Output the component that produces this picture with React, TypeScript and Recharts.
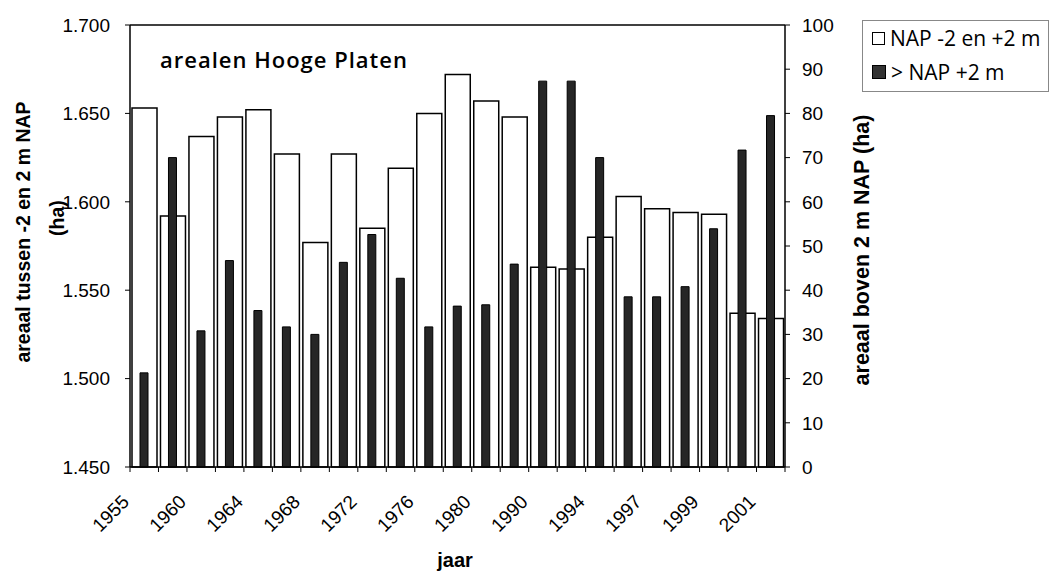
import React from "react";
import { BarChart, Bar, XAxis, YAxis, ReferenceLine, Legend } from "recharts";

const years = ["1955","1958","1960","1962","1964","1966","1968","1970","1972","1974","1976","1978","1980","1985","1990","1992","1994","1996","1997","1998","1999","2000","2001"];
const areaMid = [1653,1592,1637,1648,1652,1627,1577,1627,1585,1619,1650,1672,1657,1648,1563,1562,1580,1603,1596,1594,1593,1537,1534];
const areaHigh = [21.3,70,30.8,46.7,35.4,31.7,30,46.3,52.6,42.7,31.7,36.4,36.7,45.9,87.3,87.3,70,38.5,38.5,40.8,53.9,71.7,79.5];
const leftTicks = [1450,1500,1550,1600,1650,1700];
const rightTicks = [0,10,20,30,40,50,60,70,80,90,100];

const data = years.map((y, i) => ({ year: y, mid: areaMid[i], high: areaHigh[i] }));

const W = 1051, H = 579;
const PLOT_L = 130, PLOT_R = 785, PLOT_T = 25, PLOT_B = 467;
const BAND = (PLOT_R - PLOT_L) / years.length;
const AX = "Liberation Sans, Arial, sans-serif";
const HUM = "'Open Sans', sans-serif";

const XTick = (props: any) => {
  const { x, y, payload, index } = props;
  const half = BAND / 2;
  return (
    <g>
      <line x1={x - half} y1={y} x2={x - half} y2={y + 5} stroke="#000" strokeWidth={1} />
      {index === years.length - 1 && (
        <line x1={x + half} y1={y} x2={x + half} y2={y + 5} stroke="#000" strokeWidth={1} />
      )}
      {index % 2 === 0 && (
        <text
          transform={`translate(${x - 14},${y + 36}) rotate(-45)`}
          textAnchor="end"
          fontFamily={AX}
          fontSize={19}
          fill="#000"
        >
          {payload.value}
        </text>
      )}
    </g>
  );
};

const LegendContent = () => (
  <div
    style={{
      width: 187,
      height: 72,
      border: "1px solid #888",
      background: "#fff",
      fontFamily: HUM,
      fontSize: 21,
      color: "#000",
      boxSizing: "border-box",
      position: "relative",
    }}
  >
    <div style={{ position: "absolute", left: 9, top: 3, display: "flex", alignItems: "center", whiteSpace: "nowrap" }}>
      <span style={{ display: "inline-block", width: 11, height: 11, border: "1.5px solid #000", background: "#fff", marginRight: 5 }} />
      <span>NAP -2 en +2 m</span>
    </div>
    <div style={{ position: "absolute", left: 9, top: 37, display: "flex", alignItems: "center", whiteSpace: "nowrap" }}>
      <span style={{ display: "inline-block", width: 12, height: 12, border: "1px solid #000", background: "#333", marginRight: 5 }} />
      <span>&gt; NAP +2 m</span>
    </div>
  </div>
);

export default function App() {
  return (
    <div style={{ position: "absolute", left: 0, top: 0, width: W, height: H, background: "#fff" }}>
      <BarChart
        width={W}
        height={H}
        data={data}
        margin={{ top: PLOT_T, right: 0, bottom: 0, left: 0 }}
        barCategoryGap={0}
      >
        <XAxis
          xAxisId="a"
          dataKey="year"
          interval={0}
          tickSize={0}
          tickMargin={0}
          tickLine={false}
          height={H - PLOT_B}
          axisLine={{ stroke: "#000", strokeWidth: 1.5 }}
          tick={<XTick />}
          label={{
            content: () => (
              <text x={455} y={567} textAnchor="middle" fontFamily={AX} fontWeight="bold" fontSize={20} fill="#000">
                jaar
              </text>
            ),
          }}
        />
        <XAxis xAxisId="b" dataKey="year" hide />
        <YAxis
          yAxisId="left"
          orientation="left"
          width={PLOT_L}
          domain={[1450, 1700]}
          ticks={leftTicks}
          interval={0}
          tickFormatter={(v: number) => (v / 1000).toFixed(3)}
          tick={{ fontFamily: AX, fontSize: 19, fill: "#000" }}
          tickSize={5}
          tickMargin={15}
          tickLine={{ stroke: "#000" }}
          axisLine={{ stroke: "#000", strokeWidth: 1.5 }}
          label={{
            content: () => (
              <g fontFamily={AX} fontWeight="bold" fontSize={19.5} fill="#000">
                <text x={23} y={232} transform="rotate(-90 23 232)" textAnchor="middle" dominantBaseline="central">
                  areaal tussen -2 en 2 m NAP
                </text>
                <text x={57} y={218} transform="rotate(-90 57 218)" textAnchor="middle" dominantBaseline="central">
                  (ha)
                </text>
              </g>
            ),
          }}
        />
        <YAxis
          yAxisId="right"
          orientation="right"
          width={W - PLOT_R}
          domain={[0, 100]}
          ticks={rightTicks}
          interval={0}
          tick={{ fontFamily: AX, fontSize: 19, fill: "#000" }}
          tickSize={5}
          tickMargin={12}
          tickLine={{ stroke: "#000" }}
          axisLine={{ stroke: "#000", strokeWidth: 1.5 }}
          label={{
            content: () => (
              <text
                x={862}
                y={250}
                transform="rotate(-90 862 250)"
                textAnchor="middle"
                dominantBaseline="central"
                fontFamily={AX}
                fontWeight="bold"
                fontSize={21.5}
                fill="#000"
              >
                areaal boven 2 m NAP (ha)
              </text>
            ),
          }}
        />
        <ReferenceLine
          yAxisId="left"
          xAxisId="a"
          y={1700}
          stroke="#000"
          strokeWidth={1.5}
          label={{
            content: () => (
              <text x={160} y={68} fontFamily={HUM} fontWeight={600} fontSize={22} letterSpacing={1} fill="#000">
                arealen Hooge Platen
              </text>
            ),
          }}
        />
        <Bar
          xAxisId="a"
          yAxisId="left"
          dataKey="mid"
          name="NAP -2 en +2 m"
          fill="#fff"
          stroke="#000"
          strokeWidth={1.5}
          barSize={25}
          isAnimationActive={false}
        />
        <Bar
          xAxisId="b"
          yAxisId="right"
          dataKey="high"
          name="> NAP +2 m"
          fill="#262626"
          stroke="#000"
          strokeWidth={1}
          barSize={8}
          isAnimationActive={false}
        />
        <Legend
          layout="horizontal"
          verticalAlign="middle"
          align="center"
          content={<LegendContent />}
          wrapperStyle={{ position: "absolute", left: 862, top: 20, width: 187, height: 72 }}
        />
      </BarChart>
    </div>
  );
}
